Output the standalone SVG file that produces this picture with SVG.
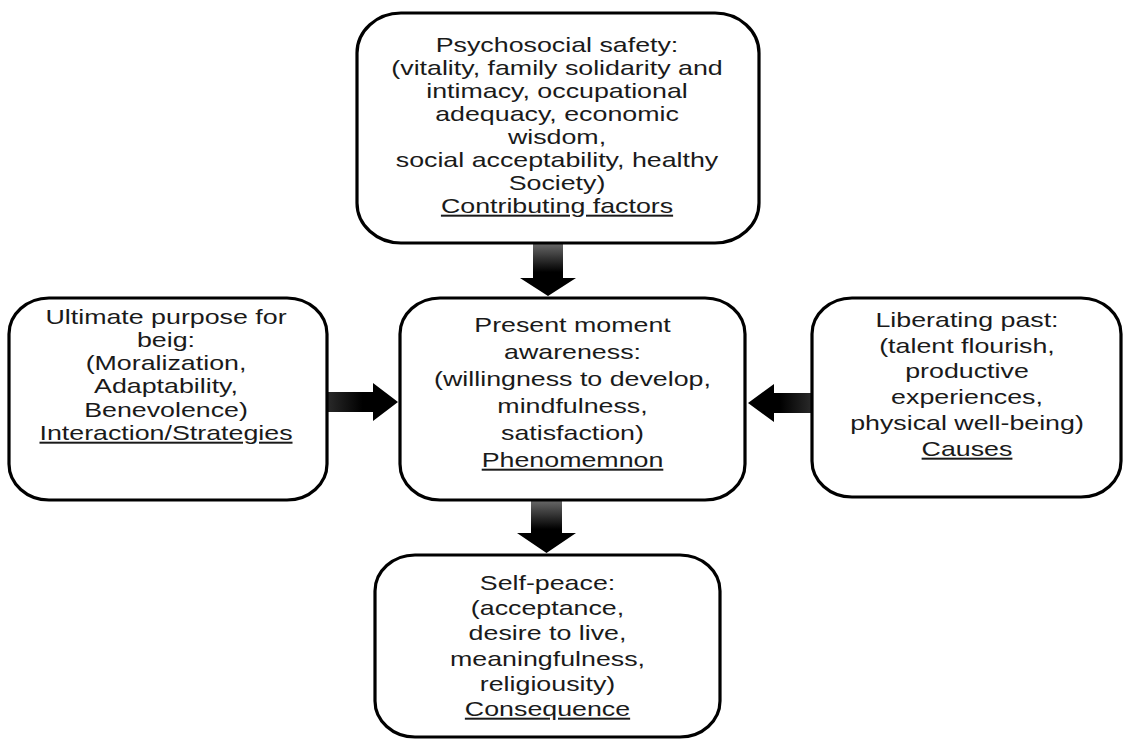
<svg xmlns="http://www.w3.org/2000/svg" width="1123" height="739" viewBox="0 0 1123 739">
<style>
.box{fill:#fff;stroke:#000;stroke-width:3.2}
.t{font-family:"Liberation Sans",Arial,sans-serif;font-size:20px;fill:#1a1a1a;text-anchor:middle}
.u{text-decoration:underline}
</style>
<defs>
<linearGradient id="gDown" x1="0" y1="0" x2="0" y2="1">
<stop offset="0" stop-color="#6a6a6a"/><stop offset="0.55" stop-color="#000"/><stop offset="1" stop-color="#000"/>
</linearGradient>
<linearGradient id="gRight" x1="0" y1="0" x2="1" y2="0">
<stop offset="0" stop-color="#2a2a2a"/><stop offset="0.5" stop-color="#000"/><stop offset="1" stop-color="#000"/>
</linearGradient>
<linearGradient id="gLeft" x1="1" y1="0" x2="0" y2="0">
<stop offset="0" stop-color="#2a2a2a"/><stop offset="0.5" stop-color="#000"/><stop offset="1" stop-color="#000"/>
</linearGradient>
</defs>
<rect width="1123" height="739" fill="#fff"/>

<g id="connectors">
<polygon fill="url(#gDown)" points="533,243 563,243 563,278 576,278 548,296 520,278 533,278"/>
<polygon fill="url(#gRight)" points="327,392 373,392 373,383 398,402 373,421 373,412 327,412"/>
<polygon fill="url(#gLeft)" points="812,393 774,393 774,384 748,403 774,422 774,413 812,413"/>
<polygon fill="url(#gDown)" points="531,500 562,500 562,533 576,533 546.5,553 517,533 531,533"/>
</g>

<g id="top">
<rect class="box" x="357" y="13" width="402" height="230" rx="44" ry="40"/>
<g transform="translate(557 0) scale(1.34 1)">
<text class="t" x="0" y="52">Psychosocial safety:</text>
<text class="t" x="0" y="75">(vitality, family solidarity and</text>
<text class="t" x="0" y="98">intimacy, occupational</text>
<text class="t" x="0" y="121">adequacy, economic</text>
<text class="t" x="0" y="144">wisdom,</text>
<text class="t" x="0" y="167">social acceptability, healthy</text>
<text class="t" x="0" y="190">Society)</text>
<text class="t u" x="0" y="213">Contributing factors</text>
</g>
</g>

<g id="left">
<rect class="box" x="9" y="298" width="318" height="202" rx="40" ry="36"/>
<g transform="translate(166 0) scale(1.34 1)">
<text class="t" x="0" y="324">Ultimate purpose for</text>
<text class="t" x="0" y="347">beig:</text>
<text class="t" x="0" y="370">(Moralization,</text>
<text class="t" x="0" y="393">Adaptability,</text>
<text class="t" x="0" y="417">Benevolence)</text>
<text class="t u" x="0" y="440">Interaction/Strategies</text>
</g>
</g>

<g id="center">
<rect class="box" x="400" y="298" width="345" height="202" rx="40" ry="36"/>
<g transform="translate(572.5 0) scale(1.34 1)">
<text class="t" x="0" y="332">Present moment</text>
<text class="t" x="0" y="359">awareness:</text>
<text class="t" x="0" y="386">(willingness to develop,</text>
<text class="t" x="0" y="413">mindfulness,</text>
<text class="t" x="0" y="440">satisfaction)</text>
<text class="t u" x="0" y="467">Phenomemnon</text>
</g>
</g>

<g id="right">
<rect class="box" x="812" y="298" width="309" height="199" rx="40" ry="36"/>
<g transform="translate(967 0) scale(1.34 1)">
<text class="t" x="0" y="327">Liberating past:</text>
<text class="t" x="0" y="353">(talent flourish,</text>
<text class="t" x="0" y="378">productive</text>
<text class="t" x="0" y="404">experiences,</text>
<text class="t" x="0" y="430">physical well-being)</text>
<text class="t u" x="0" y="456">Causes</text>
</g>
</g>

<g id="bottom">
<rect class="box" x="375" y="555" width="345" height="182" rx="40" ry="36"/>
<g transform="translate(547.5 0) scale(1.34 1)">
<text class="t" x="0" y="590">Self-peace:</text>
<text class="t" x="0" y="615">(acceptance,</text>
<text class="t" x="0" y="640">desire to live,</text>
<text class="t" x="0" y="666">meaningfulness,</text>
<text class="t" x="0" y="691">religiousity)</text>
<text class="t u" x="0" y="716">Consequence</text>
</g>
</g>
</svg>
